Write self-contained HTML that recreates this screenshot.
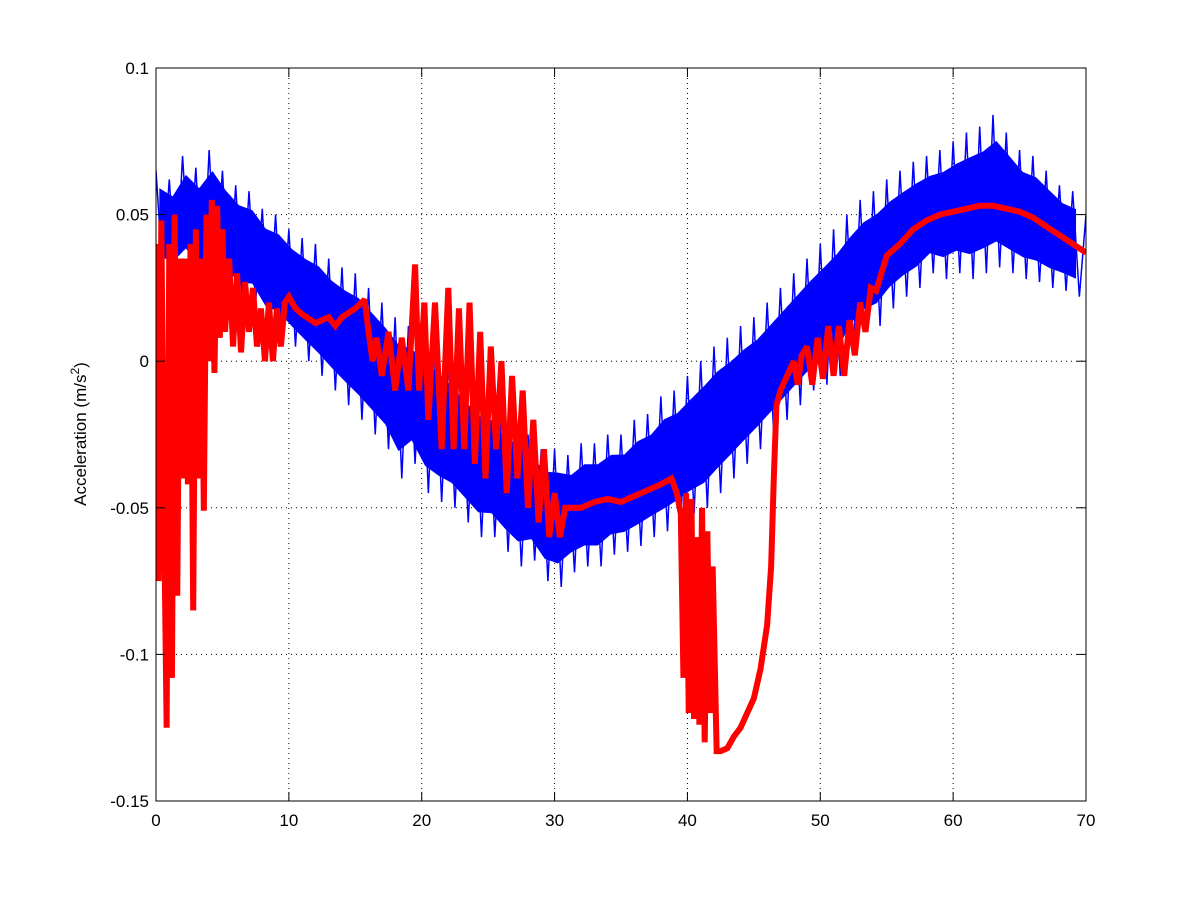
<!DOCTYPE html>
<html><head><meta charset="utf-8"><style>
body{margin:0;background:#fff;}
svg text{font-family:"Liberation Sans",Arial,sans-serif;font-size:17px;fill:#000;}
</style></head><body>
<svg id="chart" width="1200" height="900" viewBox="0 0 1200 900" xmlns="http://www.w3.org/2000/svg">
<rect width="1200" height="900" fill="#fff"/>
<g id="grid"></g>
<defs><clipPath id="clip"><rect x="156" y="68" width="930" height="733"/></clipPath></defs>
<g id="series" clip-path="url(#clip)"></g>
<rect x="156" y="68" width="930" height="733" fill="none" stroke="#000" stroke-width="1"/>
<g id="ticks"></g>
<text transform="translate(86,434) rotate(-90)" text-anchor="middle">Acceleration (m/s<tspan font-size="12" dy="-7">2</tspan><tspan dy="7">)</tspan></text>
</svg>
<script>
const xTicks=[0,10,20,30,40,50,60,70];
const yTicks=[0.1,0.05,0,-0.05,-0.1,-0.15];
const yTickLabels=["0.1","0.05","0","-0.05","-0.1","-0.15"];
// blue: alternating high/low samples every 0.5 s
const blueStep=0.5;
const blueValues=[
0.065,0.03,0.062,0.028,0.07,0.032,0.066,0.025,0.072,0.03,
0.065,0.025,0.06,0.02,0.058,0.02,0.052,0.012,0.05,0.01,
0.045,0.005,0.042,0.0,0.04,-0.005,0.035,-0.01,0.032,-0.015,
0.03,-0.02,0.025,-0.025,0.02,-0.03,0.015,-0.04,0.012,-0.035,
0.01,-0.045,0.005,-0.048,0.0,-0.05,-0.005,-0.055,-0.01,-0.06,
-0.012,-0.06,-0.018,-0.065,-0.02,-0.07,-0.025,-0.068,-0.03,-0.075,
-0.03,-0.077,-0.032,-0.072,-0.028,-0.07,-0.028,-0.07,-0.025,-0.066,
-0.025,-0.065,-0.02,-0.063,-0.018,-0.06,-0.012,-0.058,-0.01,-0.055,
-0.005,-0.052,0.0,-0.05,0.005,-0.045,0.008,-0.04,0.012,-0.035,
0.015,-0.03,0.02,-0.025,0.025,-0.02,0.03,-0.015,0.035,-0.01,
0.04,-0.008,0.045,-0.005,0.05,0.005,0.055,0.01,0.058,0.012,
0.062,0.018,0.065,0.022,0.068,0.025,0.07,0.03,0.072,0.028,
0.075,0.03,0.078,0.028,0.08,0.03,0.084,0.032,0.078,0.03,
0.072,0.028,0.07,0.027,0.065,0.025,0.06,0.024,0.058,0.022,
0.05];
const redT=[0,0.2,0.4,0.6,0.8,1.0,1.2,1.4,1.6,1.8,2.0,2.2,2.4,2.6,2.8,3.0,3.2,3.4,3.6,3.8,4.0,4.2,4.4,4.6,4.8,5.0,5.2,5.5,5.8,6.1,6.4,6.7,7.0,7.3,7.6,7.9,8.2,8.5,8.8,9.1,9.4,9.7,10,10.5,11,12,13,13.5,14,15,15.7,16,16.3,16.6,17,17.5,18,18.5,19,19.5,19.8,20.2,20.5,21,21.5,22,22.4,22.8,23.2,23.6,24,24.4,24.8,25.2,25.6,26,26.4,26.8,27.2,27.6,28,28.4,28.8,29.2,29.6,30,30.4,30.8,31.2,32,33,34,35,36,37,38,38.8,39.2,39.5,39.7,39.9,40.1,40.3,40.5,40.7,40.9,41.1,41.3,41.5,41.7,41.9,42.2,42.5,43,43.5,44,44.5,45,45.5,46,46.3,46.5,46.7,47,47.5,48,48.3,48.6,49,49.4,49.8,50.2,50.6,51,51.4,51.8,52.2,52.6,53,53.4,53.8,54.2,54.6,55,56,57,58,59,60,61,62,63,64,65,66,67,68,69,70];
const redV=[0.04,-0.075,0.048,-0.05,-0.125,0.04,-0.108,0.05,-0.08,0.035,-0.04,0.035,-0.042,0.04,-0.085,0.045,-0.04,0.035,-0.051,0.05,0.0,0.055,-0.004,0.053,0.008,0.045,0.01,0.035,0.005,0.03,0.003,0.027,0.01,0.025,0.005,0.018,0.0,0.02,0.0,0.018,0.005,0.02,0.022,0.018,0.016,0.013,0.015,0.012,0.015,0.018,0.021,0.01,0.0,0.008,-0.005,0.01,-0.01,0.008,-0.01,0.033,-0.01,0.02,-0.02,0.02,-0.03,0.025,-0.03,0.018,-0.03,0.02,-0.035,0.01,-0.04,0.005,-0.03,0.0,-0.045,-0.005,-0.04,-0.01,-0.05,-0.02,-0.055,-0.03,-0.06,-0.045,-0.06,-0.05,-0.05,-0.05,-0.048,-0.047,-0.048,-0.046,-0.044,-0.042,-0.04,-0.045,-0.052,-0.108,-0.045,-0.12,-0.047,-0.122,-0.06,-0.124,-0.05,-0.13,-0.058,-0.12,-0.07,-0.133,-0.133,-0.132,-0.128,-0.125,-0.12,-0.115,-0.105,-0.09,-0.07,-0.04,-0.015,-0.01,-0.005,0.0,-0.008,0.002,0.005,-0.008,0.008,-0.006,0.012,-0.005,0.012,-0.005,0.014,0.002,0.02,0.01,0.025,0.024,0.03,0.036,0.04,0.045,0.048,0.05,0.051,0.052,0.053,0.053,0.052,0.051,0.049,0.046,0.043,0.04,0.037];

const X0=156,X1=1086,Y0=801,Y1=68,xmin=0,xmax=70,ymin=-0.15,ymax=0.1;
const sx=t=>X0+(t-xmin)/(xmax-xmin)*(X1-X0);
const sy=v=>Y0-(v-ymin)/(ymax-ymin)*(Y0-Y1);
const NS="http://www.w3.org/2000/svg";
function mk(tag,attrs,parent){const e=document.createElementNS(NS,tag);for(const k in attrs)e.setAttribute(k,attrs[k]);parent.appendChild(e);return e;}
const grid=document.getElementById('grid'),ticks=document.getElementById('ticks'),series=document.getElementById('series');
xTicks.forEach(t=>{
  const x=sx(t);
  if(t>xmin&&t<xmax){const g=mk('line',{x1:x,x2:x,y1:Y1,y2:Y0,stroke:'#000','stroke-width':1,'stroke-dasharray':'1,4'},grid);
  
  }
  const a=mk('line',{x1:x,x2:x,y1:Y0,y2:Y0-9,stroke:'#000'},ticks);
  
  
  const b=mk('line',{x1:x,x2:x,y1:Y1,y2:Y1+9,stroke:'#000'},ticks);
  
  
  const l=mk('text',{x:x,y:Y0+25,'text-anchor':'middle'},ticks);l.textContent=String(t);
  
  
});
yTicks.forEach((v,i)=>{
  const y=sy(v);
  if(v>ymin&&v<ymax){const g=mk('line',{x1:X0,x2:X1,y1:y,y2:y,stroke:'#000','stroke-width':1,'stroke-dasharray':'1,4'},grid);
  
  }
  const a=mk('line',{x1:X0,x2:X0+9,y1:y,y2:y,stroke:'#000'},ticks);
  
  
  const b=mk('line',{x1:X1,x2:X1-9,y1:y,y2:y,stroke:'#000'},ticks);
  
  
  const l=mk('text',{x:X0-7,y:y+6,'text-anchor':'end'},ticks);l.textContent=yTickLabels[i];
  
  
});
let up=[],lo=[];
for(let i=0;i+1<blueValues.length;i+=2){
  const a=blueValues[i],b=blueValues[i+1],m=(a+b)/2,h=Math.abs(a-b)*0.33;
  const t=(i+0.5)*blueStep;
  up.push(sx(t)+','+sy(m+h));lo.unshift(sx(t)+','+sy(m-h));
}
const band=mk('polygon',{points:up.concat(lo).join(' '),fill:'#0000ff'},series);


const bp=blueValues.map((v,i)=>sx(i*blueStep)+','+sy(v)).join(' ');
const bl=mk('polyline',{points:bp,fill:'none',stroke:'#0000ff','stroke-width':1.5},series);


const rp=redT.map((t,i)=>sx(t)+','+sy(redV[i])).join(' ');
const rl=mk('polyline',{points:rp,fill:'none',stroke:'#ff0000','stroke-width':6,'stroke-linejoin':'miter','stroke-miterlimit':2},series);


</script>
</body></html>
